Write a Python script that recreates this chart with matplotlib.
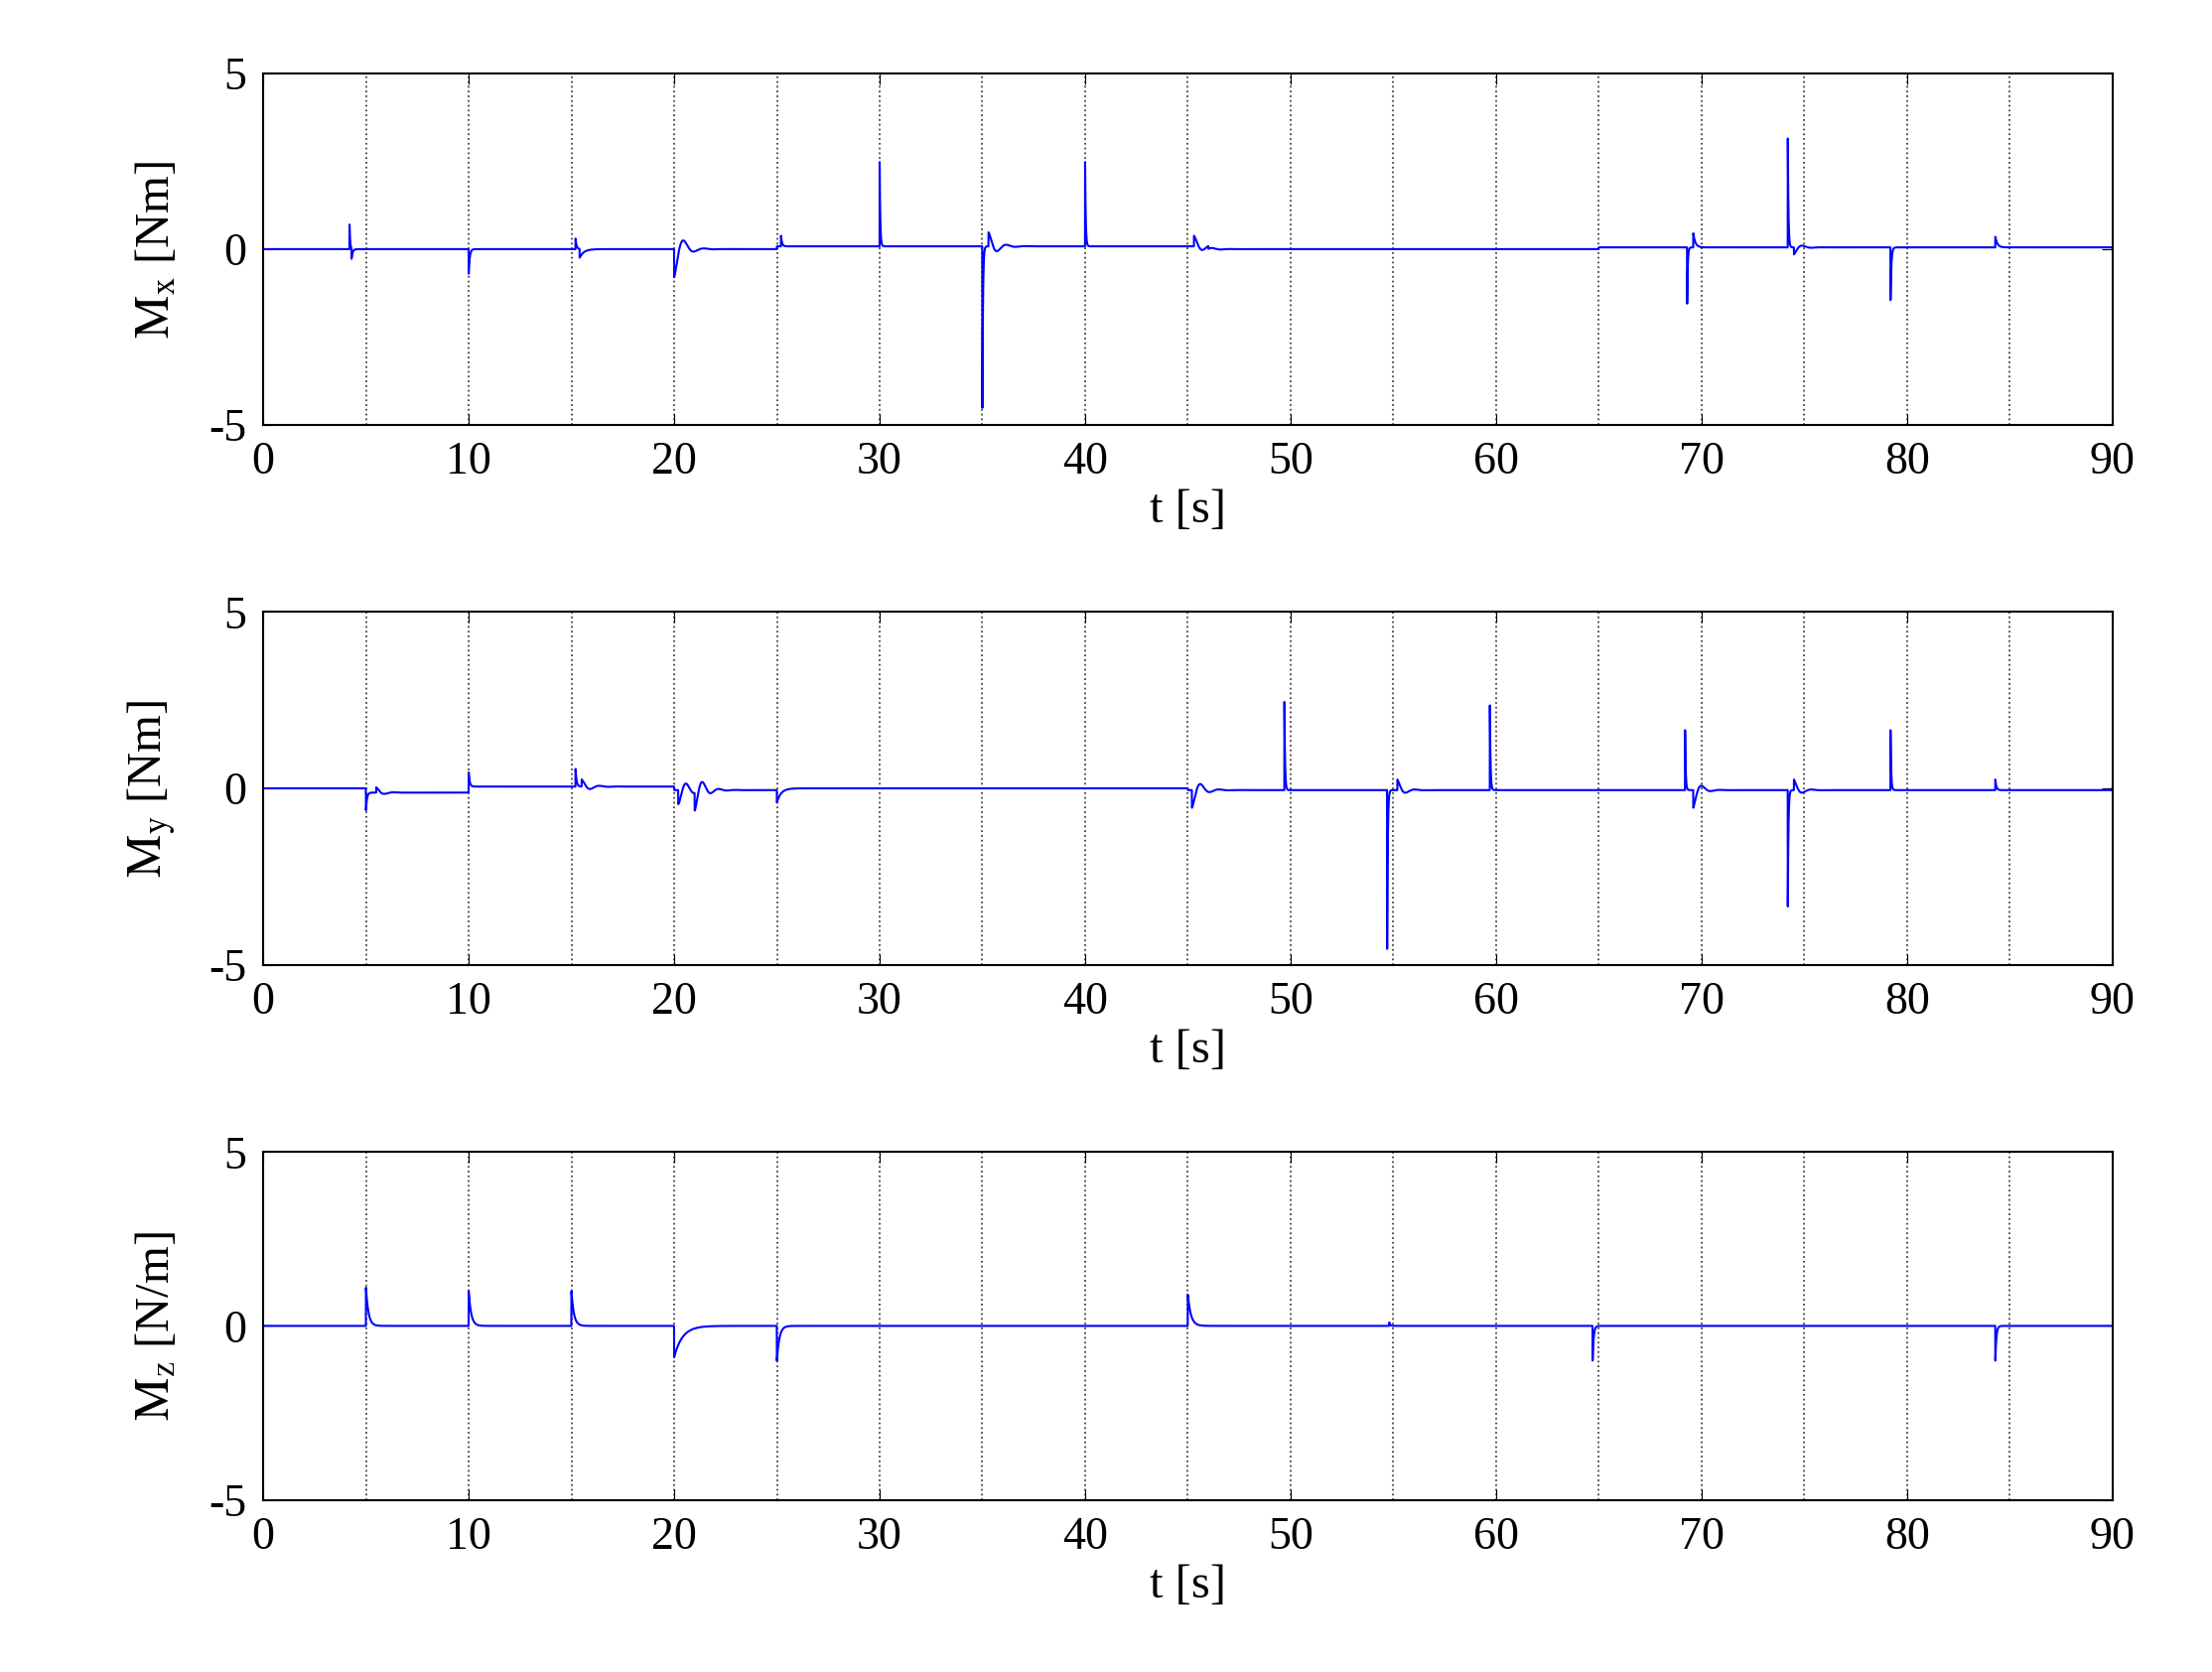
import numpy as np
import matplotlib
matplotlib.use("Agg")
import matplotlib.pyplot as plt

plt.rcParams['font.family'] = ['Liberation Serif', 'DejaVu Serif']
plt.rcParams['mathtext.fontset'] = 'stix'
plt.rcParams['axes.unicode_minus'] = False

# events: (time, amplitude, decay tau, ring period (0 = pure spike))
mx_events = [(4.2, 0.7, 0.03, 0), (4.3, -0.3, 0.05, 0), (10.0, -0.7, 0.05, 0), (15.2, 0.3, 0.05, 0),
             (15.4, -0.25, 0.2, 0), (20.0, -0.8, 0.4, 1.0), (25.2, 0.3, 0.05, 0), (30.0, 2.4, 0.03, 0),
             (35.0, -4.6, 0.03, 0), (35.3, 0.4, 0.4, 0.9), (40.0, 2.4, 0.03, 0), (45.3, 0.3, 0.4, 0.9),
             (69.3, -1.6, 0.03, 0), (69.6, 0.4, 0.1, 0), (74.2, 3.1, 0.03, 0), (74.5, -0.2, 0.3, 0.9),
             (79.2, -1.5, 0.04, 0), (84.3, 0.3, 0.1, 0)]
my_events = [(5.0, -0.5, 0.05, 0), (5.5, 0.15, 0.3, 0.9), (10.0, 0.4, 0.05, 0), (15.2, 0.5, 0.05, 0),
             (15.5, 0.2, 0.4, 0.9), (20.2, -0.4, 0.5, 0.8), (21.0, -0.5, 0.4, 0.8), (25.0, -0.4, 0.2, 0),
             (45.2, -0.5, 0.4, 0.9), (49.7, 2.5, 0.03, 0), (54.7, -4.5, 0.03, 0), (55.2, 0.3, 0.3, 0.9),
             (59.7, 2.4, 0.03, 0), (69.2, 1.7, 0.03, 0), (69.6, -0.5, 0.3, 0.9), (74.2, -3.3, 0.03, 0),
             (74.5, 0.3, 0.3, 0.9), (79.2, 1.7, 0.03, 0), (84.3, 0.3, 0.05, 0)]
mz_events = [(5.0, 1.1, 0.12, 0), (10.0, 1.0, 0.12, 0), (15.0, 1.0, 0.12, 0), (20.0, -0.9, 0.4, 0),
             (25.0, -1.0, 0.12, 0), (45.0, 0.9, 0.15, 0), (54.8, 0.1, 0.05, 0), (64.7, -1.0, 0.05, 0),
             (84.3, -1.0, 0.05, 0)]
# baseline offsets: (start, end, level)
mx_base = [(25.0, 46.0, 0.08), (65.0, 90.0, 0.05)]
my_base = [(5.0, 10.0, -0.12), (10.0, 20.0, 0.05), (20.0, 25.0, -0.05), (45.0, 90.0, -0.05)]
mz_base = []

ylabels = [r'$\mathrm{M_x}$ [Nm]', r'$\mathrm{M_y}$ [Nm]', r'$\mathrm{M_z}$ [N/m]']
xticks = [0, 10, 20, 30, 40, 50, 60, 70, 80, 90]
yticks = [-5, 0, 5]

t = np.linspace(0, 90, 18001)

def build(events, base):
    y = np.zeros_like(t)
    for a, b, lv in base:
        y[(t >= a) & (t < b)] += lv
    for t0, amp, tau, per in events:
        d = t - t0
        m = d >= 0
        if per:
            y[m] += amp * np.exp(-d[m] / tau) * np.cos(2 * np.pi * d[m] / per)
        else:
            y[m] += amp * np.exp(-d[m] / tau)
    return y

fig = plt.figure(figsize=(22.28, 16.84), dpi=100)
boxes = [(0.746, 0.956), (0.423, 0.634), (0.103, 0.311)]
for (b, tp), ev, bs, lab in zip(boxes, [mx_events, my_events, mz_events], [mx_base, my_base, mz_base], ylabels):
    ax = fig.add_axes([0.119, b, 0.836, tp - b])
    ax.plot(t, build(ev, bs), color='#0000ff', lw=1.5)
    ax.set_xlim(0, 90)
    ax.set_ylim(-5, 5)
    ax.set_xticks(xticks)
    ax.set_yticks(yticks)
    ax.set_xticks(np.arange(5, 90, 5), minor=True)
    ax.tick_params(which='minor', length=0)
    ax.grid(True, which='both', axis='x', linestyle=':', color='#444444', lw=1.3)
    ax.tick_params(direction='in', labelsize=33, length=8, top=True, right=True, pad=12)
    ax.set_xlabel('t [s]', fontsize=35, labelpad=4)
    ax.set_ylabel(lab, fontsize=35, labelpad=22)
    for s in ax.spines.values():
        s.set_linewidth(1.5)
fig.savefig('out.png', dpi=100)
